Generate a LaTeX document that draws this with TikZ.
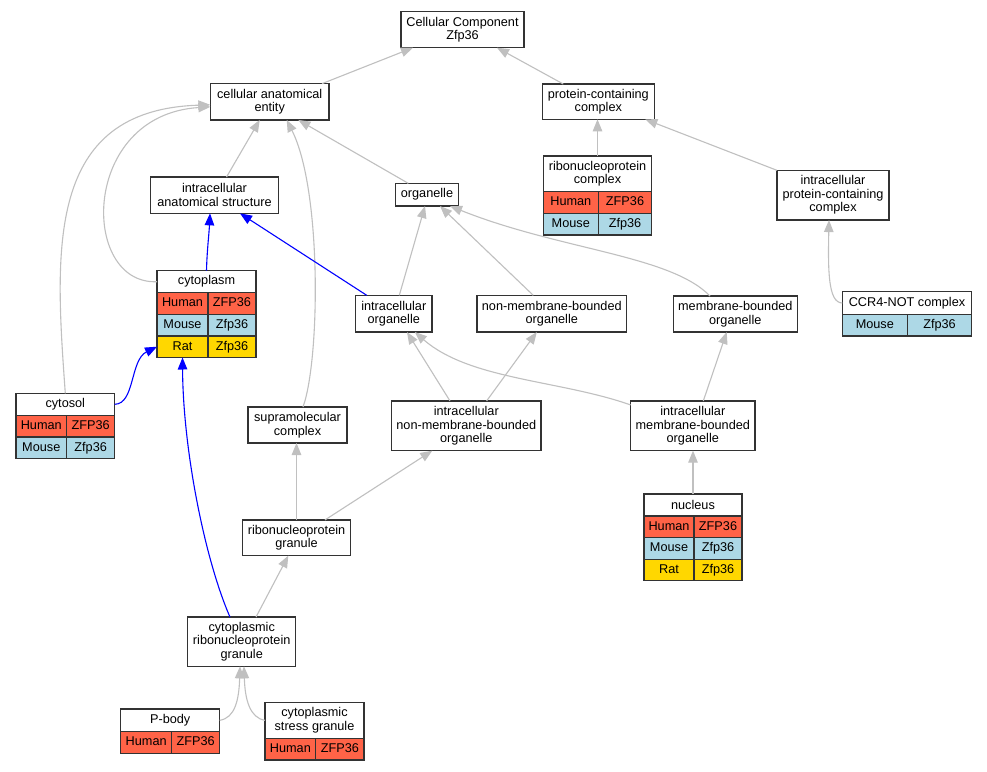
\documentclass[tikz,border=0pt]{standalone}
\usepackage{fontspec}
\setmainfont{Liberation Sans}
\usepackage{tikz}
\usetikzlibrary{arrows.meta}
\tikzstyle{chart} = [x = 1pt, y = -1pt, every node/.style={font=\fontsize{12.7}{13.5}\selectfont}]
\definecolor{humanColor}{HTML}{FF6347}
\definecolor{mouseColor}{HTML}{ADD8E6}
\definecolor{ratColor}{HTML}{FFD700}
\definecolor{edgeGray}{HTML}{C0C0C0}
\definecolor{boxLine}{HTML}{333333}
\tikzstyle{termBox} = [draw=boxLine, fill=white, line width=1.3pt, align=center, inner sep=0pt, outer sep=0pt]
\tikzstyle{geneCell} = [termBox, minimum height=21.6pt, text height=9.2pt, text depth=2.6pt]
\tikzstyle{human} = [fill=humanColor]
\tikzstyle{mouse} = [fill=mouseColor]
\tikzstyle{rat} = [fill=ratColor]
\tikzstyle{isA} = [draw=edgeGray, line width=1.1pt, -{Triangle[length=12pt, width=9.5pt]}]
\tikzstyle{partOf} = [isA, draw=blue]
\newcommand{\term}[5]{\node [termBox, minimum width=#4, minimum height=#5] (#1) at (#2) {#3};}
\newcommand{\geneRow}[7]{
  \node [geneCell, #5, minimum width=#3, anchor=north west] (#2) at (#1.south west) {#6};
  \node [geneCell, #5, minimum width=#4, anchor=north west] (#2g) at (#2.north east) {#7};
}

\begin{document}
\begin{tikzpicture}[chart]
        \fill [white] (0,0) rectangle (987,771);
        \useasboundingbox (0,0) rectangle (987,771);

        \term{cc}{462.5,29.7}{Cellular Component\\Zfp36}{123pt}{36pt}
        \term{cae}{269.7,101.8}{cellular anatomical\\entity}{118.7pt}{36.3pt}
        \term{pcc}{598.3,101.7}{protein-containing\\complex}{112pt}{35.3pt}
        \term{ias}{214.5,195.2}{intracellular\\anatomical structure}{127.6pt}{36.3pt}
        \term{organelle}{427,194.7}{organelle}{62.6pt}{22.7pt}
        \term{ipcc}{833,195.2}{intracellular\\protein-containing\\complex}{112pt}{49.7pt}
        \term{io}{393.8,313.7}{intracellular\\organelle}{76.3pt}{36.7pt}
        \term{nmbo}{551.8,313.7}{non-membrane-bounded\\organelle}{149.7pt}{36.7pt}
        \term{mbo}{735.3,314}{membrane-bounded\\organelle}{124pt}{36pt}
        \term{supra}{297.5,425}{supramolecular\\complex}{99pt}{36pt}
        \term{inmbo}{466.3,425.8}{intracellular\\non-membrane-bounded\\organelle}{149.3pt}{49.7pt}
        \term{imbo}{692.8,425.8}{intracellular\\membrane-bounded\\organelle}{124.3pt}{49.7pt}
        \term{rnpg}{296.5,537.8}{ribonucleoprotein\\granule}{107.6pt}{35.7pt}
        \term{crg}{241.7,641.7}{cytoplasmic\\ribonucleoprotein\\granule}{108pt}{49.3pt}

        % annotated terms
        \term{rnpc}{597.5,173.8}{ribonucleoprotein\\complex}{108.4pt}{35.7pt}
        \geneRow{rnpc}{rnpc-human}{55pt}{53.4pt}{human}{Human}{ZFP36}
        \geneRow{rnpc-human}{rnpc-mouse}{55pt}{53.4pt}{mouse}{Mouse}{Zfp36}

        \term{cytoplasm}{206.5,281.7}{cytoplasm}{99pt}{22pt}
        \geneRow{cytoplasm}{cytoplasm-human}{51pt}{48pt}{human}{Human}{ZFP36}
        \geneRow{cytoplasm-human}{cytoplasm-mouse}{51pt}{48pt}{mouse}{Mouse}{Zfp36}
        \geneRow{cytoplasm-mouse}{cytoplasm-rat}{51pt}{48pt}{rat}{Rat}{Zfp36}

        \term{ccr4}{907,303}{CCR4-NOT complex}{129.4pt}{22.6pt}
        \geneRow{ccr4}{ccr4-mouse}{65pt}{64.4pt}{mouse}{Mouse}{Zfp36}

        \term{cytosol}{65.3,404.3}{cytosol}{98.7pt}{22pt}
        \geneRow{cytosol}{cytosol-human}{50.7pt}{48pt}{human}{Human}{ZFP36}
        \geneRow{cytosol-human}{cytosol-mouse}{50.7pt}{48pt}{mouse}{Mouse}{Zfp36}

        \term{nucleus}{693,505}{nucleus}{98pt}{22pt}
        \geneRow{nucleus}{nucleus-human}{50pt}{48pt}{human}{Human}{ZFP36}
        \geneRow{nucleus-human}{nucleus-mouse}{50pt}{48pt}{mouse}{Mouse}{Zfp36}
        \geneRow{nucleus-mouse}{nucleus-rat}{50pt}{48pt}{rat}{Rat}{Zfp36}

        \term{pbody}{170.2,720.3}{P-body}{99pt}{22.7pt}
        \geneRow{pbody}{pbody-human}{51pt}{48pt}{human}{Human}{ZFP36}

        \term{csg}{314.5,720.3}{cytoplasmic\\stress granule}{99pt}{36pt}
        \geneRow{csg}{csg-human}{50.7pt}{48.3pt}{human}{Human}{ZFP36}

        % is_a edges
        \draw [isA] ([xshift=52.3pt]cae.north) -- ([xshift=-49.5pt]cc.south);
        \draw [isA] ([xshift=-35pt]pcc.north) -- ([xshift=34.5pt]cc.south);
        \draw [isA] ([xshift=12pt]ias.north) -- ([xshift=-10pt]cae.south);
        \draw [isA] ([xshift=-18.7pt]organelle.north) -- ([xshift=28.6pt]cae.south);
        \draw [isA] ([xshift=5.5pt]supra.north) .. controls (320,360) and (322,190) .. ([xshift=17pt]cae.south);
        \draw [isA] (cytoplasm.west) .. controls (80,285) and (80,115) .. ([yshift=-5pt]cae.west);
        \draw [isA] (cytosol.north) .. controls (55,250) and (45,110) .. ([yshift=-3pt]cae.west);
        \draw [isA] (rnpc.north) -- (rnpc.north |- pcc.south);
        \draw [isA] (ipcc.north west) -- ([xshift=47pt]pcc.south);
        \draw [isA] (ccr4.west) .. controls (828,303) and (828,270) .. ([xshift=-4pt]ipcc.south);
        \draw [isA] ([xshift=5.5pt]io.north) -- ([xshift=-2pt]organelle.south);
        \draw [isA] ([xshift=-18.5pt]nmbo.north) -- ([xshift=13pt]organelle.south);
        \draw [isA] ([xshift=-25.3pt]mbo.north) .. controls (670,255) and (560,250) .. ([xshift=23pt]organelle.south);
        \draw [isA] ([xshift=-16.3pt]inmbo.north) -- ([xshift=13.2pt]io.south);
        \draw [isA] ([xshift=20.3pt]inmbo.north) -- ([xshift=-15pt]nmbo.south);
        \draw [isA] ([yshift=-4pt]imbo.north west) .. controls (560,380) and (470,380) .. ([xshift=21pt]io.south);
        \draw [isA] ([xshift=10.5pt]imbo.north) -- ([xshift=-8.6pt]mbo.south);
        \draw [isA] (nucleus.north) -- (nucleus.north |- imbo.south);
        \draw [isA] (rnpg.north) -- (rnpg.north |- supra.south);
        \draw [isA] ([xshift=28.5pt]rnpg.north) -- ([xshift=-34pt]inmbo.south);
        \draw [isA] ([xshift=14.3pt]crg.north) -- ([xshift=-8.2pt]rnpg.south);
        \draw [isA] (pbody.east) .. controls (235,718) and (239,700) .. ([xshift=-1.7pt]crg.south);
        \draw [isA] (csg.west) .. controls (250,718) and (245,700) .. ([xshift=2.3pt]crg.south);

        % part_of edges
        \draw [partOf] (cytoplasm.north) .. controls (207,250) and (209,235) .. ([xshift=-4.5pt]ias.south);
        \draw [partOf] ([xshift=-27pt]io.north) -- ([xshift=25.5pt]ias.south);
        \draw [partOf] (cytosol.east) .. controls (135,404) and (130,360) .. (cytoplasm-rat.west);
        \draw [partOf] ([xshift=-11.7pt]crg.north) .. controls (205,560) and (183,450) .. (cytoplasm-rat.south);
      \end{tikzpicture}
\end{document}
